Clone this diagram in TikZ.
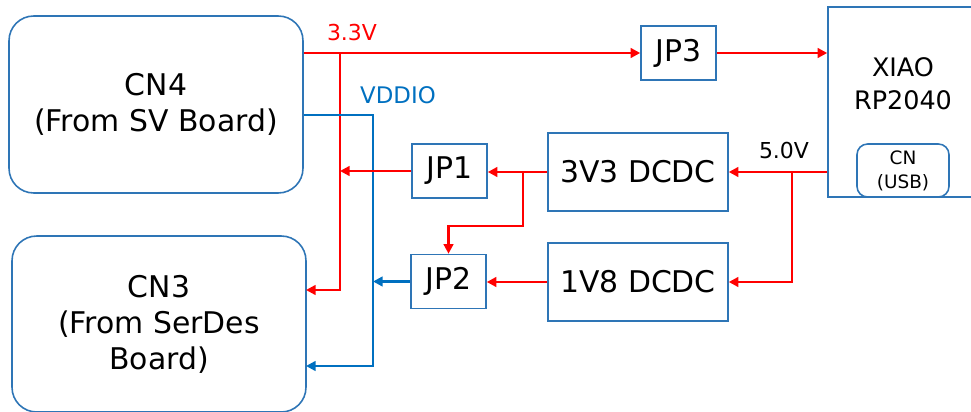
\documentclass[tikz,border=0pt]{standalone}
\usepackage{fontspec}
\setmainfont{DejaVu Sans}
\usepackage{tikz}
\usetikzlibrary{arrows.meta,positioning,calc}
\usepackage{xcolor}
\definecolor{boxblue}{RGB}{46,117,182}
\definecolor{wireblue}{RGB}{0,112,192}
\definecolor{wirered}{RGB}{255,0,0}

\begin{document}
\begin{tikzpicture}[x=0.02cm,y=-0.02cm,
  conn/.style={draw=boxblue,line width=0.9pt,rounded corners=14pt,
    minimum width=5.88cm,align=center,font=\fontsize{17}{20.5}\selectfont},
  blk/.style={draw=boxblue,line width=0.9pt,minimum height=1.08cm,
    font=\fontsize{17}{20}\selectfont},
  rarr/.style={-{Triangle[length=5.5pt,width=5.5pt]},line width=1.4pt,draw=wirered},
  barr/.style={-{Triangle[length=5.5pt,width=5.5pt]},line width=1.4pt,draw=wireblue},
  lbl/.style={font=\fontsize{12.5}{14}\selectfont}
]
\useasboundingbox (0,0) rectangle (971,412);

\node[conn,minimum height=3.54cm] (cn4) at (156,104.5) {CN4\\(From SV Board)};
\node[conn,minimum height=3.52cm] (cn3) at (159,324) {CN3\\(From SerDes\\Board)};

\node[blk,minimum width=1.5cm] (jp1) at (449.5,171) {JP1};
\node[blk,minimum width=1.5cm] (jp2) at (448.5,281.5) {JP2};
\node[blk,minimum width=1.5cm] (jp3) at (678.5,53) {JP3};
\node[blk,minimum width=3.6cm,minimum height=1.56cm] (dc33) at (638,172) {3V3 DCDC};
\node[blk,minimum width=3.6cm,minimum height=1.56cm] (dc18) at (638,282) {1V8 DCDC};

\node[draw=boxblue,line width=0.9pt,minimum width=3.04cm,minimum height=3.8cm]
  (xiao) at (904,102) {};
\node[align=center,font=\fontsize{14.5}{18.7}\selectfont] (xiaotxt) at (903,84)
  {XIAO\\RP2040};
\node[draw=boxblue,line width=0.9pt,rounded corners=6pt,minimum width=1.84cm,
      minimum height=1.06cm,align=center,font=\fontsize{10.5}{13.6}\selectfont]
  (usb) at (903,170.5) {CN\\(USB)};

\coordinate (t33) at (340,53);
\coordinate (cn3r) at (306,290);
\coordinate (vdd) at (373,115);
\coordinate (cn3v) at (306,366);
\coordinate (t3v3) at (523,172);
\coordinate (t50) at (792,172);

\draw[rarr] (cn4.east |- t33) -- (jp3.west);
\draw[rarr] (t33) |- (cn3r);
\draw[rarr] (jp3.east) -- (jp3.east -| xiao.west);
\draw[barr] (cn4.east |- vdd) -| (vdd |- cn3v) -- (cn3v);

\draw[rarr] (jp1.west) -- (jp1.west -| t33);
\draw[barr] (jp2.west) -- (jp2.west -| vdd);
\draw[rarr] (dc33.west) -- (dc33.west -| jp1.east);
\draw[rarr] (t3v3) -- ++(0,54) -| (jp2.north);
\draw[rarr] (dc18.west) -- (dc18.west -| jp2.east);
\draw[rarr] (xiao.west |- t50) -- (dc33.east);
\draw[rarr] (t50) |- (dc18.east);

\node[lbl,text=wirered] (l33) at (352,33) {3.3V};
\node[lbl,text=wireblue,font=\fontsize{13}{15}\selectfont] (lvdd) at (398,95) {VDDIO};
\node[lbl] (l50) at (784,151) {5.0V};
\end{tikzpicture}
\end{document}
